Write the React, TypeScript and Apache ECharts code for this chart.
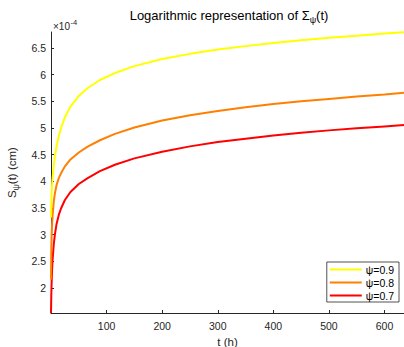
import React, { useEffect, useRef } from "react";
import * as echarts from "echarts";

// time (h)
const tHours = [0, 0.5, 1, 2, 3, 5, 7, 10, 14, 18, 25, 35, 50, 66, 88, 115, 150, 200, 250, 300, 350, 400, 450, 500, 550, 600, 635];
// S_psi(t) in units of 1e-4 cm
const psi09 = [3.32, 3.6, 3.75, 3.95, 4.08, 4.3, 4.47, 4.66, 4.85, 5.0, 5.2, 5.4, 5.6, 5.75, 5.9, 6.03, 6.16, 6.295, 6.39, 6.47, 6.535, 6.595, 6.645, 6.69, 6.73, 6.77, 6.795];
const psi08 = [2.16, 2.7, 2.95, 3.2, 3.38, 3.62, 3.77, 3.93, 4.06, 4.15, 4.28, 4.41, 4.54, 4.65, 4.77, 4.89, 5.01, 5.14, 5.24, 5.32, 5.39, 5.45, 5.5, 5.545, 5.59, 5.63, 5.66];
const psi07 = [1.53, 1.85, 2.05, 2.35, 2.55, 2.82, 3.0, 3.2, 3.37, 3.49, 3.65, 3.8, 3.95, 4.06, 4.19, 4.31, 4.43, 4.555, 4.655, 4.735, 4.8, 4.86, 4.91, 4.955, 4.995, 5.03, 5.055];
const seriesNames = ["ψ=0.9", "ψ=0.8", "ψ=0.7"];
const seriesColors = ["#FFFF00", "#FF8000", "#FF0000"];
const xTicks = [100, 200, 300, 400, 500, 600];
const yTicks = [2, 2.5, 3, 3.5, 4, 4.5, 5, 5.5, 6, 6.5];

const FONT = "'Liberation Sans', Arial, Helvetica, sans-serif";
const AXIS = "#262626";

export default function App() {
  const ref = useRef<HTMLDivElement>(null);
  useEffect(() => {
    if (!ref.current) return;
    const chart = echarts.init(ref.current, undefined, { renderer: "svg" });
    const all = [psi09, psi08, psi07];
    chart.setOption({
      animation: false,
      backgroundColor: "#ffffff",
      textStyle: { fontFamily: FONT },
      grid: { left: 51, right: 0, top: 32, bottom: 34, containLabel: false, outerBoundsMode: "none" },
      legend: {
        orient: "vertical",
        right: 5,
        top: 262,
        data: seriesNames,
        icon: "rect",
        itemWidth: 32,
        itemHeight: 2,
        itemGap: 2,
        padding: [2, 5, 1, 3],
        borderColor: AXIS,
        borderWidth: 0.8,
        borderRadius: 0,
        backgroundColor: "#fff",
        textStyle: { fontFamily: FONT, fontSize: 10.5, color: "#000", padding: [0, 0, 0, -1] },
      },
      xAxis: {
        type: "value",
        min: 0,
        max: 635,
        name: "t (h)",
        nameLocation: "middle",
        nameGap: 22,
        nameTextStyle: { fontFamily: FONT, fontSize: 11.5, color: AXIS },
        axisLine: { lineStyle: { color: AXIS, width: 1 } },
        axisTick: { inside: true, length: 3, lineStyle: { color: AXIS }, customValues: xTicks },
        axisLabel: { fontFamily: FONT, fontSize: 10.5, color: AXIS, margin: 7, customValues: xTicks },
        splitLine: { show: false },
      },
      yAxis: {
        type: "value",
        min: 1.53,
        max: 6.8,
        name: "S{sub|ψ}(t) (cm)",
        nameLocation: "middle",
        nameRotate: 90,
        nameGap: 22,
        nameTextStyle: {
          fontFamily: FONT,
          fontSize: 11.5,
          color: AXIS,
          rich: { sub: { fontFamily: FONT, fontSize: 8.5, color: AXIS, padding: [8, 0, 0, 0] } },
        },
        axisLine: { show: true, lineStyle: { color: AXIS, width: 1 } },
        axisTick: { show: true, inside: true, length: 3, lineStyle: { color: AXIS }, customValues: yTicks },
        axisLabel: { fontFamily: FONT, fontSize: 10.5, color: AXIS, margin: 5, customValues: yTicks },
        splitLine: { show: false },
      },
      graphic: [
        {
          type: "text",
          x: 229,
          y: 6,
          style: {
            text: "Logarithmic representation of Σ{sub|ψ}(t)",
            align: "center",
            verticalAlign: "top",
            fontFamily: FONT,
            fontSize: 13,
            fill: "#000000",
            rich: {
              sub: { fontFamily: FONT, fontSize: 9, fill: "#000000", padding: [9, 0, 0, 0] },
            },
          },
        },
        {
          type: "text",
          x: 53,
          y: 21,
          style: { text: "×10", fontFamily: FONT, fontSize: 10, fill: AXIS, verticalAlign: "top" },
        },
        {
          type: "text",
          x: 70.5,
          y: 18,
          style: { text: "-4", fontFamily: FONT, fontSize: 7.5, fill: AXIS, verticalAlign: "top" },
        },
      ],
      series: all.map((vals, i) => ({
        name: seriesNames[i],
        type: "line",
        data: tHours.map((t, j) => [t, vals[j]]),
        symbol: "none",
        smooth: false,
        lineStyle: { color: seriesColors[i], width: 2 },
        itemStyle: { color: seriesColors[i] },
        z: 3 - i,
      })),
    });
    return () => chart.dispose();
  }, []);
  return <div ref={ref} style={{ width: 404, height: 347, position: "absolute", left: 0, top: 0 }} />;
}
